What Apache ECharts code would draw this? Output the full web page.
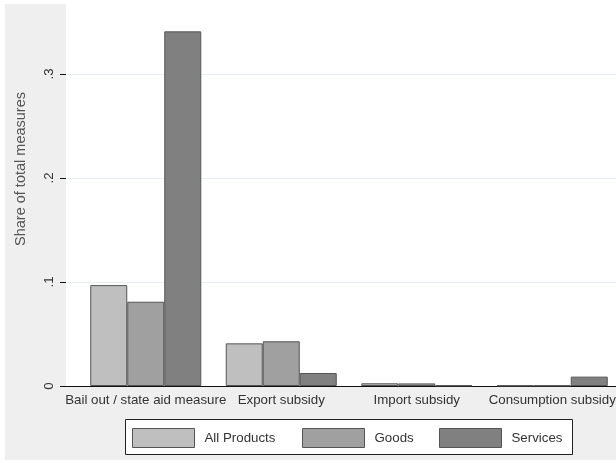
<!DOCTYPE html>
<html>
<head>
<meta charset="utf-8">
<script src="https://cdn.jsdelivr.net/npm/echarts@6/dist/echarts.min.js"></script>
<style>
html,body{margin:0;padding:0;background:#ffffff;}
#chart{width:616px;height:463px;}
</style>
</head>
<body>
<div id="chart"></div>
<script>
var categories = ['Bail out / state aid measure', 'Export subsidy', 'Import subsidy', 'Consumption subsidy'];
var allProducts = [0.097, 0.041, 0.0026, 0.0005];
var goods = [0.081, 0.043, 0.0025, 0.0005];
var services = [0.341, 0.0125, 0.0006, 0.009];
var seriesNames = ['All Products', 'Goods', 'Services'];
var yTicks = [0, 0.1, 0.2, 0.3];
var tickLabels = ['0', '.1', '.2', '.3'];

var FONT = '"Liberation Sans", Arial, sans-serif';
var colors = ['#bfbfbf', '#a0a0a0', '#808080'];
var border = '#555555';
var YMAX = 0.4173;

var chart = echarts.init(document.getElementById('chart'));

function legendFor(i, left) {
  return {
    show: true, left: left, top: 428, padding: 0,
    selectedMode: false,
    itemWidth: 62, itemHeight: 19,
    icon: 'rect',
    data: [{name: seriesNames[i], itemStyle: {color: colors[i], borderColor: border, borderWidth: 1}}],
    textStyle: {fontFamily: FONT, fontSize: 13.3, color: '#333333', padding: [0, 0, 0, 5]}
  };
}

var barSeries = [allProducts, goods, services].map(function (d, i) {
  return {
    name: seriesNames[i], type: 'bar', xAxisIndex: 1, yAxisIndex: 1,
    data: d, barWidth: 37, barGap: '0%',
    itemStyle: {color: colors[i], borderColor: border, borderWidth: 1},
    emphasis: {disabled: true}
  };
});

chart.setOption({
  animation: false,
  graphic: [
    {type: 'rect', z: -10, shape: {x: 5, y: 4, width: 611, height: 456}, style: {fill: '#efefef'}},
    {type: 'rect', z: 1, shape: {x: 125.5, y: 419.5, width: 447, height: 35}, style: {fill: '#ffffff', stroke: '#222222', lineWidth: 1}}
  ],
  legend: [legendFor(0, 132), legendFor(1, 302), legendFor(2, 439)],
  grid: [
    {left: 66, right: 0, top: -48, bottom: 77, show: true, backgroundColor: '#ffffff', borderWidth: 0, outerBoundsMode: 'none', containLabel: false},
    {left: 78, right: -4, top: -48, bottom: 77, outerBoundsMode: 'none', containLabel: false}
  ],
  xAxis: [
    {
      gridIndex: 0, type: 'value', min: 0, max: 1,
      axisLine: {show: true, lineStyle: {color: '#111111', width: 1}},
      axisTick: {show: false}, axisLabel: {show: false}, splitLine: {show: false}
    },
    {
      gridIndex: 1, type: 'category', data: categories, boundaryGap: true,
      axisLine: {show: false}, axisTick: {show: false},
      axisLabel: {fontFamily: FONT, fontSize: 13.3, color: '#333333', margin: 8, interval: 0}
    }
  ],
  yAxis: [
    {
      gridIndex: 0, type: 'value', min: 0, max: YMAX, interval: 0.1,
      name: 'Share of total measures', nameLocation: 'middle', nameGap: 38,
      nameTextStyle: {fontFamily: FONT, fontSize: 14.5, color: '#555555'},
      axisLine: {show: false},
      axisTick: {show: true, length: 6, lineStyle: {color: '#111111'}},
      axisLabel: {
        rotate: 90, margin: 10, fontFamily: FONT, fontSize: 13.3, color: '#333333',
        showMaxLabel: false,
        formatter: function (v) {
          for (var i = 0; i < yTicks.length; i++) { if (Math.abs(v - yTicks[i]) < 1e-9) return tickLabels[i]; }
          return '';
        }
      },
      splitLine: {show: true, lineStyle: {color: '#e6f0f1', width: 1}}
    },
    {
      gridIndex: 1, type: 'value', min: 0, max: YMAX, interval: 0.1, show: false,
      splitLine: {show: false}
    }
  ],
  series: barSeries
});
</script>
</body>
</html>
